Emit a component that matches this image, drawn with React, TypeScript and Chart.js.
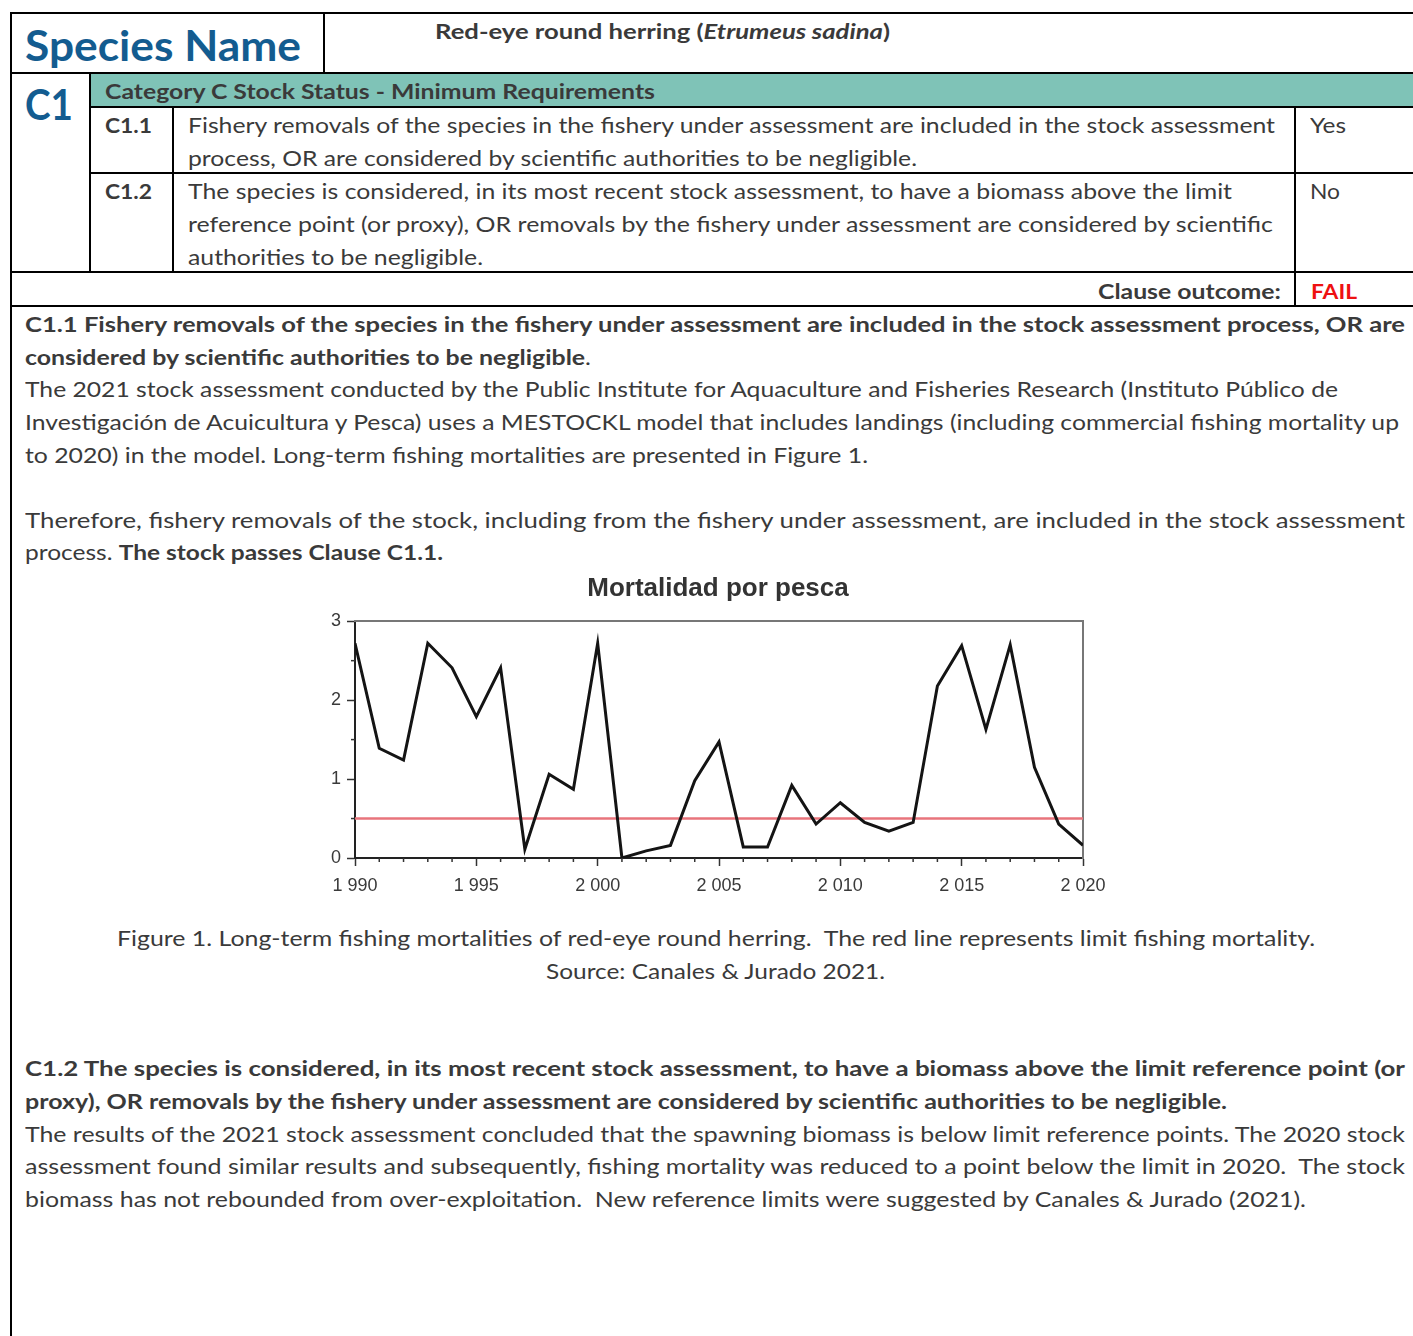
import React, { useEffect, useLayoutEffect, useRef } from "react";
import { Chart, registerables } from "chart.js";

Chart.register(...registerables);

// ---------- Data ----------
const years = [
  1990, 1991, 1992, 1993, 1994, 1995, 1996, 1997, 1998, 1999,
  2000, 2001, 2002, 2003, 2004, 2005, 2006, 2007, 2008, 2009,
  2010, 2011, 2012, 2013, 2014, 2015, 2016, 2017, 2018, 2019, 2020,
];
const fishingMortality = [
  2.72, 1.39, 1.24, 2.72, 2.41, 1.79, 2.41, 0.11, 1.06, 0.87,
  2.72, 0.0, 0.09, 0.16, 0.98, 1.47, 0.14, 0.14, 0.92, 0.43,
  0.7, 0.45, 0.34, 0.45, 2.18, 2.69, 1.63, 2.7, 1.15, 0.43, 0.16,
];
const limitYears = [1990, 2020];
const limitMortality = [0.5, 0.5];
const yearMin = 1990;
const yearMax = 2020;
const yearTickStep = 5;
const mortalityMin = 0;
const mortalityMax = 3;
const mortalityTickStep = 1;
const chartTitle = "Mortalidad por pesca";

// ---------- Styles ----------
const FONT = "Lato, 'Noto Sans', sans-serif";
const GRAY = "#3a3a3a";
const BLUE = "#135c90";
const TEAL = "#7fc3b7";
const RED = "#ee1111";

type TProps = {
  x: number;
  cy: number;
  w: number;
  size?: number;
  bold?: boolean;
  color?: string;
  children?: React.ReactNode;
};

function T({ x, cy, w, size = 21.5, bold = false, color = GRAY, children }: TProps) {
  const ref = useRef<HTMLSpanElement>(null);
  useLayoutEffect(() => {
    const el = ref.current;
    if (!el) return;
    el.style.transform = "none";
    const nat = el.getBoundingClientRect().width;
    if (nat > 0) el.style.transform = `scaleX(${w / nat})`;
  }, [w]);
  const lh = Math.round(size * 1.4);
  return (
    <div
      style={{
        position: "absolute",
        left: x,
        top: cy - lh / 2,
        height: lh,
        lineHeight: lh + "px",
        whiteSpace: "pre",
        fontFamily: FONT,
        fontSize: size,
        fontWeight: bold ? 700 : 400,
        color,
      }}
    >
      <span ref={ref} style={{ display: "inline-block", transformOrigin: "0 50%" }}>
        {children}
      </span>
    </div>
  );
}

function HLine({ x1, x2, y }: { x1: number; x2: number; y: number }) {
  return (
    <div style={{ position: "absolute", left: x1, top: y - 1, width: x2 - x1, height: 2, background: "#000" }} />
  );
}
function VLine({ y1, y2, x }: { y1: number; y2: number; x: number }) {
  return (
    <div style={{ position: "absolute", left: x - 1, top: y1, width: 2, height: y2 - y1, background: "#000" }} />
  );
}

const fmtYear = (v: number) => {
  const s = String(v);
  return s.length === 4 ? s[0] + " " + s.slice(1) : s;
};

const minorTicks = {
  id: "minorTicks",
  afterDraw(chart: any) {
    const { ctx } = chart;
    const x = chart.scales.x;
    const y = chart.scales.y;
    ctx.save();
    ctx.strokeStyle = "#333";
    ctx.lineWidth = 1.5;
    for (let v = x.min; v <= x.max; v += 1) {
      if (v % yearTickStep === 0) continue;
      const px = x.getPixelForValue(v);
      ctx.beginPath();
      ctx.moveTo(px, x.top);
      ctx.lineTo(px, x.top + 4);
      ctx.stroke();
    }
    for (let v = y.min + mortalityTickStep / 2; v < y.max; v += mortalityTickStep) {
      const py = y.getPixelForValue(v);
      ctx.beginPath();
      ctx.moveTo(y.right - 4, py);
      ctx.lineTo(y.right, py);
      ctx.stroke();
    }
    ctx.restore();
  },
};

function MortalityChart() {
  const canvasRef = useRef<HTMLCanvasElement>(null);
  useEffect(() => {
    if (!canvasRef.current) return;
    const tickFont = { family: "'Liberation Sans', Arial, sans-serif", size: 18 };
    const chart = new Chart(canvasRef.current, {
      type: "line",
      data: {
        datasets: [
          {
            label: "F",
            data: years.map((yr, i) => ({ x: yr, y: fishingMortality[i] })),
            borderColor: "#141414",
            borderWidth: 3,
            pointRadius: 0,
            tension: 0,
            xAxisID: "x",
            yAxisID: "y",
          },
          {
            label: "Flim",
            data: limitYears.map((yr, i) => ({ x: yr, y: limitMortality[i] })),
            borderColor: "#e8747c",
            borderWidth: 2.5,
            pointRadius: 0,
            xAxisID: "x",
            yAxisID: "y",
          },
        ],
      },
      options: {
        responsive: false,
        animation: false,
        devicePixelRatio: 1,
        layout: { padding: { left: 0, right: 4, top: 0, bottom: 0 } },
        plugins: {
          legend: { display: false },
          tooltip: { enabled: false },
          title: {
            display: true,
            text: chartTitle,
            color: "#333",
            font: { family: "'Liberation Sans', Arial, sans-serif", size: 26, weight: "bold", lineHeight: 1.2 },
            padding: { top: 8, bottom: 17 },
          },
        },
        scales: {
          x: {
            type: "linear",
            position: "bottom",
            min: yearMin,
            max: yearMax,
            ticks: {
              stepSize: yearTickStep,
              color: "#3a3a3a",
              font: tickFont,
              padding: 9,
              maxRotation: 0,
              callback: (v: any) => fmtYear(Number(v)),
            },
            grid: { drawOnChartArea: false, drawTicks: true, tickLength: 8, tickColor: "#333", tickWidth: 1.5 },
            border: { color: "#222", width: 2 },
            afterFit: (s: any) => {
              s.height = 47;
            },
          },
          y: {
            type: "linear",
            position: "left",
            min: mortalityMin,
            max: mortalityMax,
            ticks: { stepSize: mortalityTickStep, color: "#3a3a3a", font: tickFont, padding: 6 },
            grid: { drawOnChartArea: false, drawTicks: true, tickLength: 8, tickColor: "#333", tickWidth: 1.5 },
            border: { color: "#222", width: 2 },
            afterFit: (s: any) => {
              s.width = 55;
            },
          },
          x2: {
            type: "linear",
            position: "top",
            min: yearMin,
            max: yearMax,
            ticks: { display: false },
            grid: { drawOnChartArea: false, drawTicks: false },
            border: { color: "#777", width: 2 },
            afterFit: (s: any) => {
              s.height = 0;
            },
          },
          y2: {
            type: "linear",
            position: "right",
            min: mortalityMin,
            max: mortalityMax,
            ticks: { display: false },
            grid: { drawOnChartArea: false, drawTicks: false },
            border: { color: "#777", width: 2 },
            afterFit: (s: any) => {
              s.width = 53;
            },
          },
        },
      } as any,
      plugins: [minorTicks],
    });
    return () => chart.destroy();
  }, []);
  return (
    <div style={{ position: "absolute", left: 300, top: 565, width: 840, height: 340 }}>
      <canvas ref={canvasRef} width={840} height={340} style={{ width: 840, height: 340, display: "block" }} />
    </div>
  );
}

export default function App() {
  const R = 1413;
  return (
    <div
      style={{
        position: "absolute",
        left: 0,
        top: 0,
        width: 1413,
        height: 1336,
        overflow: "hidden",
        background: "#fff",
        fontFamily: FONT,
      }}
    >
      {/* teal band */}
      <div style={{ position: "absolute", left: 90, top: 74, width: R - 90, height: 33, background: TEAL }} />

      {/* table lines */}
      <HLine x1={10} x2={R} y={13} />
      <VLine x={11} y1={12} y2={1336} />
      <VLine x={324} y1={13} y2={73} />
      <HLine x1={10} x2={R} y={73} />
      <VLine x={90} y1={73} y2={272} />
      <HLine x1={90} x2={R} y={107} />
      <HLine x1={90} x2={R} y={173} />
      <VLine x={173} y1={107} y2={272} />
      <VLine x={1295} y1={107} y2={306} />
      <HLine x1={10} x2={R} y={272} />
      <HLine x1={10} x2={R} y={306} />

      {/* header */}
      <T x={25} cy={45} w={276} size={42} bold color={BLUE}>Species Name</T>
      <T x={435} cy={31} w={455} size={21.5} bold>
        Red-eye round herring (<i>Etrumeus sadina</i>)
      </T>
      <T x={25} cy={104} w={48} size={42} bold color={BLUE}>C1</T>
      <T x={105} cy={91} w={550} size={21.5} bold>Category C Stock Status - Minimum Requirements</T>

      <T x={105} cy={125} w={47} bold>C1.1</T>
      <T x={188} cy={125} w={1087}>
        Fishery removals of the species in the fishery under assessment are included in the stock assessment
      </T>
      <T x={188} cy={158} w={729}>process, OR are considered by scientific authorities to be negligible.</T>
      <T x={1310} cy={125} w={36}>Yes</T>

      <T x={105} cy={191} w={47} bold>C1.2</T>
      <T x={188} cy={191} w={1044}>
        The species is considered, in its most recent stock assessment, to have a biomass above the limit
      </T>
      <T x={188} cy={224} w={1085}>
        reference point (or proxy), OR removals by the fishery under assessment are considered by scientific
      </T>
      <T x={188} cy={257} w={295}>authorities to be negligible.</T>
      <T x={1310} cy={191} w={30}>No</T>

      <T x={1098} cy={291} w={183} bold>Clause outcome:</T>
      <T x={1311} cy={291} w={46} bold color={RED}>FAIL</T>

      {/* C1.1 body */}
      <T x={25} cy={324} w={1380} bold>
        C1.1 Fishery removals of the species in the fishery under assessment are included in the stock assessment process, OR are
      </T>
      <T x={25} cy={357} w={566}>
        <b>considered by scientific authorities to be negligible</b>.
      </T>
      <T x={25} cy={389} w={1313}>
        The 2021 stock assessment conducted by the Public Institute for Aquaculture and Fisheries Research (Instituto Público de
      </T>
      <T x={25} cy={422} w={1374}>
        Investigación de Acuicultura y Pesca) uses a MESTOCKL model that includes landings (including commercial fishing mortality up
      </T>
      <T x={25} cy={455} w={843}>
        to 2020) in the model. Long-term fishing mortalities are presented in Figure 1.
      </T>
      <T x={25} cy={520} w={1380}>
        Therefore, fishery removals of the stock, including from the fishery under assessment, are included in the stock assessment
      </T>
      <T x={25} cy={552} w={418}>
        process. <b>The stock passes Clause C1.1.</b>
      </T>

      <MortalityChart />

      <T x={117} cy={938} w={1198}>
        Figure 1. Long-term fishing mortalities of red-eye round herring.  The red line represents limit fishing mortality.
      </T>
      <T x={546} cy={971} w={339}>Source: Canales &amp; Jurado 2021.</T>

      {/* C1.2 body */}
      <T x={25} cy={1068} w={1380} bold>
        C1.2 The species is considered, in its most recent stock assessment, to have a biomass above the limit reference point (or
      </T>
      <T x={25} cy={1101} w={1202} bold>
        proxy), OR removals by the fishery under assessment are considered by scientific authorities to be negligible.
      </T>
      <T x={25} cy={1134} w={1380}>
        The results of the 2021 stock assessment concluded that the spawning biomass is below limit reference points. The 2020 stock
      </T>
      <T x={25} cy={1166} w={1380}>
        assessment found similar results and subsequently, fishing mortality was reduced to a point below the limit in 2020.  The stock
      </T>
      <T x={25} cy={1199} w={1281}>
        biomass has not rebounded from over-exploitation.  New reference limits were suggested by Canales &amp; Jurado (2021).
      </T>
    </div>
  );
}
